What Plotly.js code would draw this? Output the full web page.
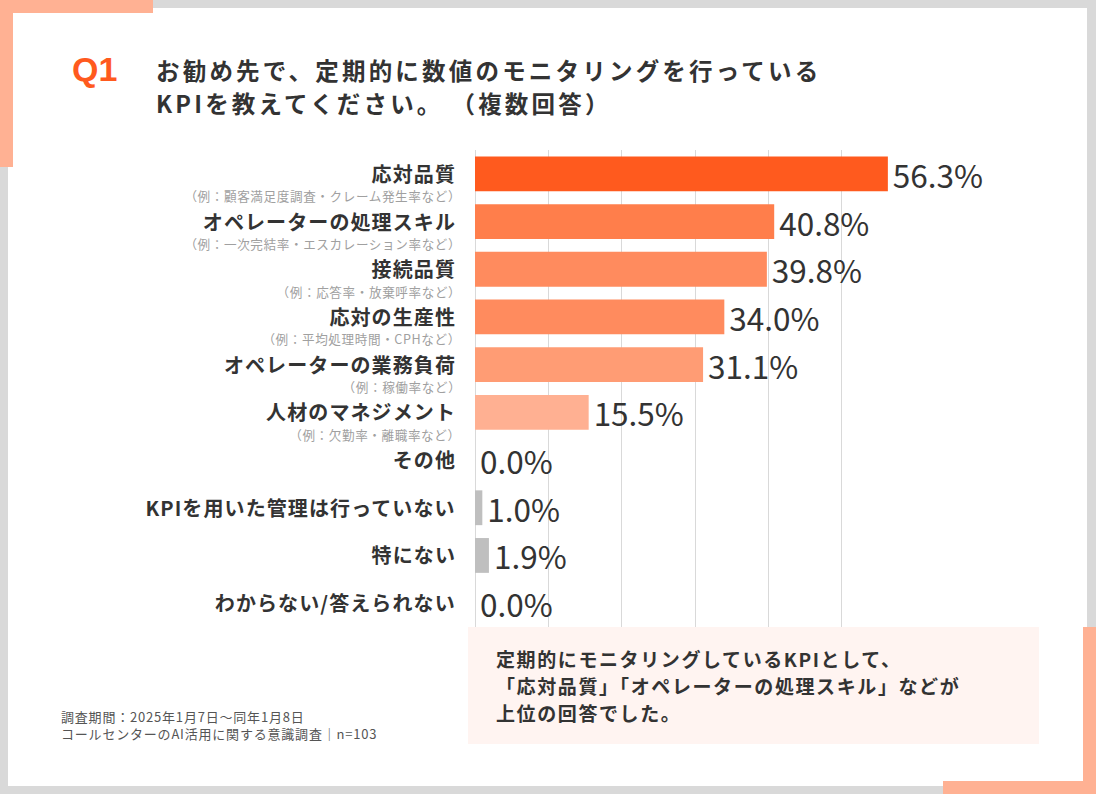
<!DOCTYPE html>
<html>
<head>
<meta charset="utf-8">
<script src="https://cdn.plot.ly/plotly-3.0.1.min.js"></script>
<style>
  html, body { margin: 0; padding: 0; background: #d9d9d9; }
  #chart { width: 1096px; height: 794px; }
</style>
</head>
<body>
<div id="chart"></div>
<script>
// ---- data ----
const categories = [
  '応対品質',
  'オペレーターの処理スキル',
  '接続品質',
  '応対の生産性',
  'オペレーターの業務負荷',
  '人材のマネジメント',
  'その他',
  'KPIを用いた管理は行っていない',
  '特にない',
  'わからない/答えられない'
];
const examples = [
  '（例：顧客満足度調査・クレーム発生率など）',
  '（例：一次完結率・エスカレーション率など）',
  '（例：応答率・放棄呼率など）',
  '（例：平均処理時間・CPHなど）',
  '（例：稼働率など）',
  '（例：欠勤率・離職率など）',
  '', '', '', ''
];
const values = [56.3, 40.8, 39.8, 34.0, 31.1, 15.5, 0.0, 1.0, 1.9, 0.0];
const barColors = [
  '#FF5A1E', '#FF7E4B', '#FF8B5E', '#FF8B5E', '#FF9C74',
  '#FFB092', '#BFBFBF', '#BFBFBF', '#BFBFBF', '#BFBFBF'
];
const titleQ = 'Q1';
const titleLines = [
  'お勧め先で、定期的に数値のモニタリングを行っている',
  'KPIを教えてください。\u2009（複数回答）'
];
const noteLines = [
  '定期的にモニタリングしているKPIとして、',
  '「応対品質」「オペレーターの処理スキル」などが',
  '上位の回答でした。'
];
const footLines = [
  '調査期間：2025年1月7日～同年1月8日',
  'コールセンターのAI活用に関する意識調査｜n=103'
];

// ---- layout helpers (pixel -> paper) ----
const W = 1096, H = 794;
const M = {l: 475, r: 181, t: 150, b: 167};
const PW = W - M.l - M.r, PH = H - M.t - M.b;
const px = p => (p - M.l) / PW;
const py = p => (H - M.b - p) / PH;
const FONT = '"Noto Sans CJK JP", "Noto Sans", sans-serif';

function rect(x0, y0, x1, y1, color, layer) {
  return {type: 'rect', xref: 'paper', yref: 'paper',
    x0: px(x0), x1: px(x1), y0: py(y1), y1: py(y0),
    fillcolor: color, line: {width: 0}, layer: layer || 'below'};
}

const ACCENT = '#FFB193';
const shapes = [
  rect(8, 8, 1087, 786, '#ffffff'),
  rect(0, 0, 153, 13, ACCENT),
  rect(0, 0, 13, 167, ACCENT),
  rect(1083, 627, 1096, 794, ACCENT),
  rect(943, 781, 1096, 794, ACCENT),
  rect(468, 627, 1039, 744, '#FFF4F1', 'above')
];

const annotations = [];
const spacing = [];   // letter-spacing (px) per annotation
function addAnn(a, ls) { a.borderpad = 0; annotations.push(a); spacing.push(ls || 0); }

// title
addAnn({xref: 'paper', yref: 'paper', x: px(71), y: py(69), xanchor: 'left', yanchor: 'middle', align: 'left',
  text: '<b>' + titleQ + '</b>', showarrow: false,
  font: {family: '"Liberation Sans", Arial, sans-serif', size: 34, color: '#FF5A1E'}}, 0);
titleLines.forEach((t, i) => {
  addAnn({xref: 'paper', yref: 'paper', x: px(155), y: py(70 + i * 33), xanchor: 'left', yanchor: 'middle', align: 'left',
    text: '<b>' + t + '</b>', showarrow: false,
    font: {family: FONT, size: 23.5, color: '#333333'}}, 3.2);
});
// category labels
categories.forEach((c, i) => {
  const hasEx = examples[i] !== '';
  addAnn({xref: 'paper', yref: 'y', x: 0, y: c, xanchor: 'right', yanchor: 'middle', align: 'right',
    xshift: -18, yshift: 0.5,
    text: '<b>' + c + '</b>', showarrow: false,
    font: {family: FONT, size: 20, color: '#333333'}}, 1.1);
  if (hasEx) {
    addAnn({xref: 'paper', yref: 'y', x: 0, y: c, xanchor: 'right', yanchor: 'middle', align: 'right',
      xshift: -13, yshift: -22,
      text: examples[i], showarrow: false,
      font: {family: FONT, size: 12.6, color: '#A0A0A0'}}, 0.6);
  }
});
// callout text
noteLines.forEach((t, i) => {
  addAnn({xref: 'paper', yref: 'paper', x: px(495), y: py(658 + i * 27), xanchor: 'left', yanchor: 'middle', align: 'left',
    text: '<b>' + t + '</b>', showarrow: false,
    font: {family: FONT, size: 19, color: '#333333'}}, 1.6);
});
// footnote
addAnn({xref: 'paper', yref: 'paper', x: px(60), y: py(725), xanchor: 'left', yanchor: 'middle', align: 'left',
  text: footLines.join('<br>'), showarrow: false,
  font: {family: FONT, size: 13, color: '#555555'}}, 0.8);

const trace = {
  type: 'bar',
  orientation: 'h',
  y: categories,
  x: values,
  width: 0.73,
  marker: {color: barColors, line: {width: 0}},
  texttemplate: '\u200A%{x:.1f}%',
  textposition: 'outside',
  constraintext: 'none',
  cliponaxis: false,
  textfont: {family: FONT, size: 31.5, color: '#333333'},
  hoverinfo: 'none'
};

const layout = {
  width: W, height: H,
  margin: {l: M.l, r: M.r, t: M.t, b: M.b, pad: 0},
  paper_bgcolor: '#d9d9d9',
  plot_bgcolor: 'rgba(0,0,0,0)',
  showlegend: false,
  font: {family: FONT},
  xaxis: {range: [0, 60], dtick: 10, tick0: 0, showgrid: true, gridcolor: '#D9D9D9', gridwidth: 1,
    zeroline: true, zerolinecolor: '#D9D9D9', zerolinewidth: 1,
    showticklabels: false, ticks: '', showline: false, fixedrange: true},
  yaxis: {type: 'category', categoryorder: 'array', categoryarray: categories,
    range: [categories.length - 0.5, -0.5], showticklabels: false, showgrid: false,
    zeroline: false, ticks: '', showline: false, fixedrange: true},
  shapes: shapes,
  annotations: annotations
};

Plotly.newPlot('chart', [trace], layout, {staticPlot: true, displayModeBar: false}).then(gd => {
  spacing.forEach((ls, i) => {
    if (!ls) return;
    gd.querySelectorAll('.annotation[data-index="' + i + '"] text').forEach(t => {
      t.style.letterSpacing = ls + 'px';
    });
  });
});
</script>
</body>
</html>
